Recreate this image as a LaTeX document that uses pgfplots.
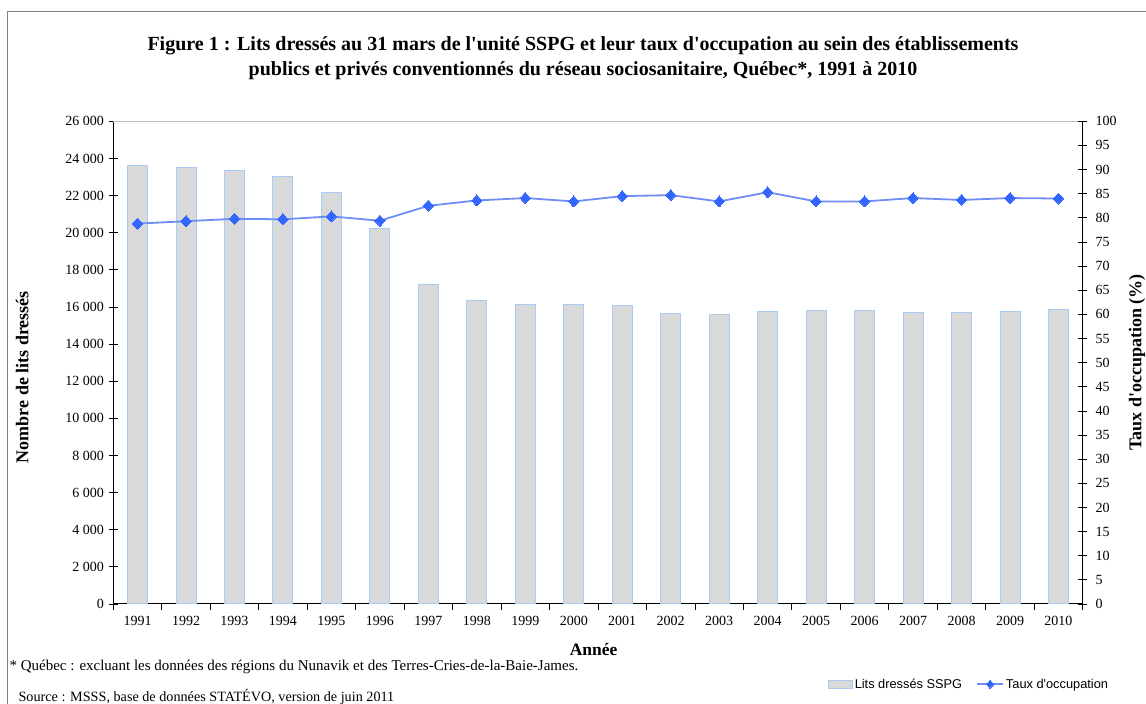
\documentclass[border=0pt]{standalone}
\usepackage{fontspec}
\setmainfont{Liberation Serif}
\newfontfamily\arialf{Liberation Sans}
\usepackage{pgfplots}
\usepackage{pgfplotstable}
\pgfplotsset{compat=1.18}
\definecolor{barfill}{HTML}{D9D9D9}
\definecolor{baredge}{HTML}{A8CCF4}
\definecolor{linec}{HTML}{6E8EF5}
\definecolor{markc}{HTML}{3366FF}
\definecolor{framec}{HTML}{808080}
\definecolor{topc}{HTML}{BFBFBF}
\pgfplotsset{
  barlegend/.style={legend image code/.code={\draw[##1] (0pt,-4pt) rectangle (24pt,4pt);}},
  linelegend/.style={legend image code/.code={\draw[mark repeat=2,mark phase=2,##1, mark size=4pt] plot coordinates {(0pt,0pt)(13pt,0pt)(26pt,0pt)};}},
}

\pgfplotstableread{
x year beds taux
1 1991 23620 78.8
2 1992 23510 79.3
3 1993 23350 79.8
4 1994 23000 79.7
5 1995 22140 80.3
6 1996 20200 79.4
7 1997 17190 82.5
8 1998 16360 83.6
9 1999 16130 84.1
10 2000 16130 83.4
11 2001 16080 84.5
12 2002 15660 84.7
13 2003 15610 83.4
14 2004 15750 85.3
15 2005 15800 83.4
16 2006 15800 83.4
17 2007 15720 84.1
18 2008 15720 83.7
19 2009 15750 84.1
20 2010 15860 84.0
}\data

\begin{document}
\begin{tikzpicture}
\useasboundingbox (0pt,0pt) rectangle (1146pt,704pt);
\draw[framec, line width=1pt] (7pt,-10pt) rectangle (1170pt,692pt);
\node[align=center, font=\fontsize{20}{24.5}\selectfont\bfseries] at (583pt,646pt)
  {Figure 1 : Lits dressés au 31 mars de l\textquotesingle unité SSPG et leur taux d\textquotesingle occupation au sein des établissements\\
   publics et privés conventionnés du réseau sociosanitaire, Québec*, 1991 à 2010};
\begin{axis}[
  at={(113.3pt,100pt)}, anchor=south west, scale only axis,
  width=969.4pt, height=482.7pt,
  xmin=0.5, xmax=20.5, ymin=0, ymax=26000,
  axis x line*=bottom, axis y line*=left,
  axis line style={black,-, line width=1pt},
  xtick={1,...,20},
  xticklabels from table={\data}{year},
  minor xtick={0.5,1.5,...,20.5},
  ytick={0,2000,...,26000},
  scaled y ticks=false,
  y tick style={/pgfplots/tick align=center},
  x tick style={/pgfplots/tick align=outside},
  major tick length=9pt, minor tick length=6pt,
  major x tick style={draw=none},
  tick style={black, line width=0.8pt},
  /pgf/number format/assume math mode=true,
  /pgf/number format/1000 sep={\ },
  tick label style={font=\fontsize{14}{16}\selectfont},
  xticklabel style={yshift=-9pt},
  yticklabel style={xshift=-6pt},
  xlabel={\bfseries Année},
  xlabel style={at={(axis description cs:0.4955,-0.095)}, anchor=center, font=\fontsize{17.5}{19}\selectfont},
  ylabel={\bfseries Nombre de lits dressés},
  ylabel style={at={(axis description cs:-0.094,0.47)}, anchor=center, font=\fontsize{18}{20}\selectfont},
  clip=false,
]
\addplot[ybar, bar width=20pt, fill=barfill, draw=baredge, line width=1pt] table[x=x, y=beds]{\data};
\draw[topc, line width=1.2pt] (rel axis cs:0,1) -- (rel axis cs:1,1);
\end{axis}
\begin{axis}[
  at={(113.3pt,100pt)}, anchor=south west, scale only axis,
  width=969.4pt, height=482.7pt,
  xmin=0.5, xmax=20.5, ymin=0, ymax=100,
  axis x line=none, axis y line*=right,
  axis line style={black,-, line width=1pt},
  ytick={0,5,...,100},
  tick align=center, major tick length=9pt,
  tick style={black, line width=0.8pt},
  /pgf/number format/assume math mode=true,
  tick label style={font=\fontsize{14}{16}\selectfont},
  yticklabel style={xshift=5pt},
  ylabel={\bfseries Taux d\textquotesingle occupation (\%)},
  ylabel style={at={(axis description cs:1.056,0.5)}, anchor=center, font=\fontsize{18}{20}\selectfont},
  legend style={at={(axis description cs:1.0315,-0.166)}, anchor=east, draw=none, fill=none,
    font=\arialf\fontsize{12.8}{14}\selectfont, legend columns=2,
    /tikz/every even column/.append style={column sep=12pt}},
  clip=false,
]
\addlegendimage{fill=barfill, draw=baredge, line width=1pt, barlegend}
\addlegendentry{Lits dressés SSPG}
\addplot[linec, line width=1.8pt, mark=diamond*, mark size=5.5pt,
  mark options={fill=markc, draw=markc, line width=0pt, xscale=1.25}, linelegend]
  table[x=x, y=taux]{\data};
\addlegendentry{Taux d'occupation}
\end{axis}
\node[anchor=west, font=\fontsize{15}{16}\selectfont] at (6pt,37pt)
  {* Québec : excluant les données des régions du Nunavik et des Terres-Cries-de-la-Baie-James.};
\node[anchor=west, font=\fontsize{14.2}{16}\selectfont] at (15pt,7pt)
  {Source : MSSS, base de données STATÉVO, version de juin 2011};
\end{tikzpicture}
\end{document}
